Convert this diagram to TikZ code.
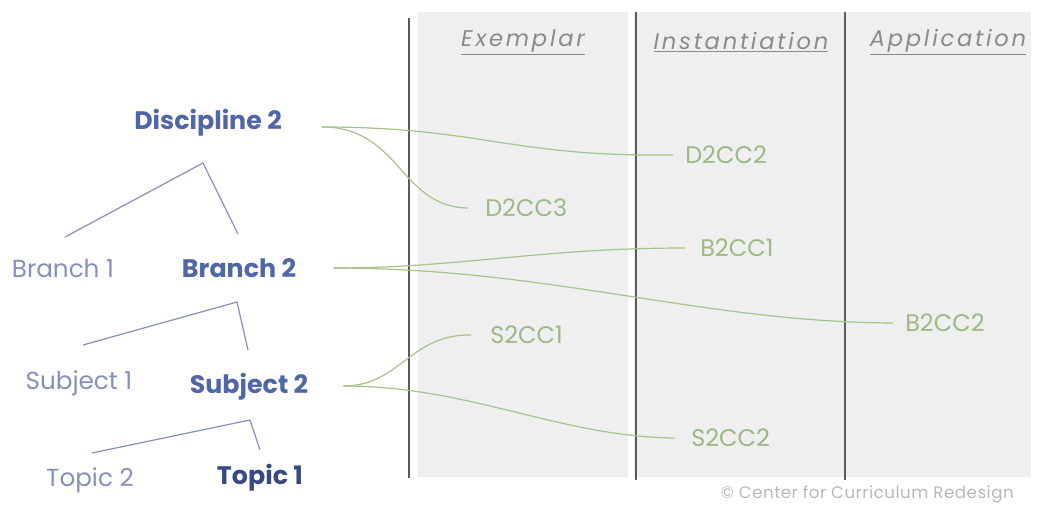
\documentclass[tikz,border=0pt]{standalone}
\usepackage{fontspec}
\setmainfont{Poppins}
\usetikzlibrary{calc,positioning}

\definecolor{panelgrey}{HTML}{EFEFEF}
\definecolor{ruleline}{HTML}{5A5A5A}
\definecolor{ccgreen}{HTML}{A8C28C}
\definecolor{ccgreentext}{HTML}{9DB884}
\definecolor{levelblue}{HTML}{8590BC}
\definecolor{curblue}{HTML}{5066AA}
\definecolor{topicnavy}{HTML}{394A82}
\definecolor{headgrey}{HTML}{8A8A8A}

\begin{document}
\begin{tikzpicture}[x=0.75pt,y=-0.75pt,
    lvl/.style={text=levelblue,font=\fontsize{18.5}{20}\selectfont,inner sep=0pt},
    cur/.style={text=curblue,font=\fontsize{19}{21}\selectfont\bfseries,inner sep=0pt},
    cc/.style={text=ccgreentext,font=\fontsize{18}{20}\selectfont,inner sep=0pt},
    head/.style={text=headgrey,font=\fontsize{17}{19}\selectfont\itshape\addfontfeatures{LetterSpace=12},inner sep=0pt},
    treeline/.style={draw=levelblue,line width=0.9pt},
    ccline/.style={draw=ccgreen,line width=0.9pt},
    colrule/.style={draw=ruleline,line width=0.9pt}]
  \useasboundingbox (0,0) rectangle (1039,510);

  % columns
  \fill[panelgrey] (418,12) rectangle (1031,477);
  \fill[white] (628,12) rectangle (634,477);
  \draw[colrule] (409,18) -- (409,478);
  \draw[colrule] (636,12) -- (636,480);
  \draw[colrule] (845,12) -- (845,480);

  \node[head] (hexe) at (523,42) {\underline{Exemplar}};
  \node[head] (hins) at (741,42) {\underline{Instantiation}};
  \node[head] (happ) at (948,42) {\underline{Application}};

  % hierarchy
  \node[cur] (disc) at (208,123) {Discipline 2};
  \node[lvl] (br1) at (63,268) {Branch 1};
  \node[cur] (br2) at (239,268) {Branch 2};
  \node[lvl] (sub1) at (79,383) {Subject 1};
  \node[cur] (sub2) at (249,387) {Subject 2};
  \node[lvl] (top2) at (90,480) {Topic 2};
  \node[cur,text=topicnavy] (top1) at (260,478) {Topic 1};

  \draw[treeline] ($(br1)+(2,-31)$) -- ($(disc)+(-5,40)$) -- ($(br2)+(-1,-34)$);
  \draw[treeline] ($(sub1)+(4,-38)$) -- ($(br2)+(-2,34)$) -- ($(sub2)+(-1,-37)$);
  \draw[treeline] ($(top2)+(2,-27)$) -- ($(sub2)+(1,33)$) -- ($(top1)+(0,-28)$);

  % competencies
  \node[cc,anchor=west] (d2cc2) at (685,155) {D2CC2};
  \node[cc,anchor=west] (d2cc3) at (485,208) {D2CC3};
  \node[cc,anchor=west] (b2cc1) at (700,248) {B2CC1};
  \node[cc,anchor=west] (b2cc2) at (905,323) {B2CC2};
  \node[cc,anchor=west] (s2cc1) at (490,335) {S2CC1};
  \node[cc,anchor=west] (s2cc2) at (691,438) {S2CC2};

  \coordinate (dout) at ($(disc.east)+(40,4)$);
  \coordinate (bout) at ($(br2.east)+(37,0)$);
  \coordinate (sout) at ($(sub2.east)+(35,-1)$);

  \draw[ccline] (dout) .. controls (480,127) and (510,157) .. ($(d2cc2.west)+(-12,0)$);
  \draw[ccline] (dout) .. controls (400,127) and (400,207) .. ($(d2cc3.west)+(-17,0)$);
  \draw[ccline] (bout) .. controls (460,268) and (540,248) .. ($(b2cc1.west)+(-15,0)$);
  \draw[ccline] (bout) .. controls (550,268) and (700,322) .. ($(b2cc2.west)+(-12,0)$);
  \draw[ccline] (sout) .. controls (400,386) and (410,334) .. ($(s2cc1.west)+(-19,0)$);
  \draw[ccline] (sout) .. controls (470,386) and (560,437) .. ($(s2cc2.west)+(-16,0)$);

  \node[text=headgrey!60,font=\fontsize{12.5}{15}\selectfont\addfontfeatures{LetterSpace=3},anchor=east,inner sep=0pt] (credit) at (1014,494) {© Center for Curriculum Redesign};
\end{tikzpicture}
\end{document}
